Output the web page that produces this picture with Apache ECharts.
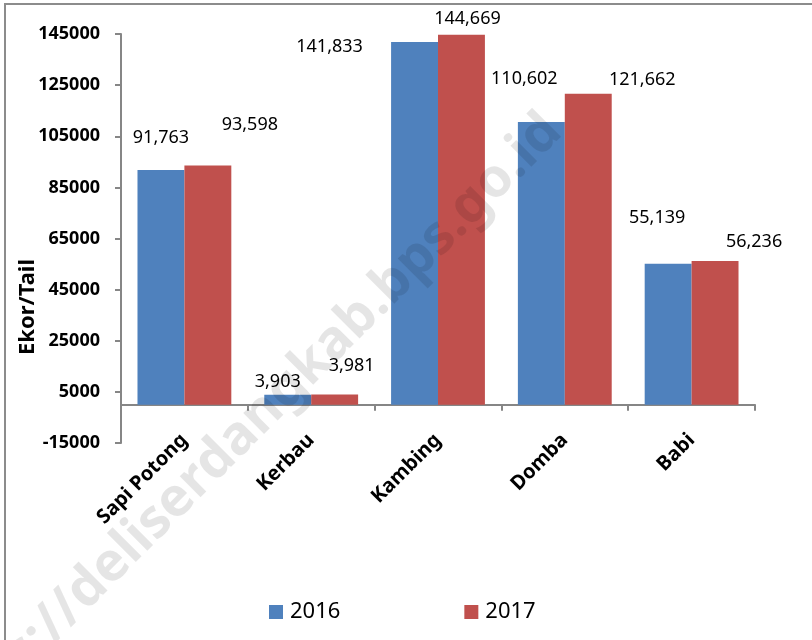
<!DOCTYPE html>
<html>
<head>
<meta charset="utf-8">
<script src="https://cdn.jsdelivr.net/npm/echarts@6/dist/echarts.min.js"></script>
<style>
  html, body { margin: 0; padding: 0; background: #fff; }
  #chart { width: 812px; height: 640px; }
</style>
</head>
<body>
<div id="chart"></div>
<script>
var categories = ['Sapi Potong', 'Kerbau', 'Kambing', 'Domba', 'Babi'];
var seriesNames = ['2016', '2017'];
var values2016 = [91763, 3903, 141833, 110602, 55139];
var values2017 = [93598, 3981, 144669, 121662, 56236];
var yTicks = { min: -15000, max: 145000, interval: 20000 };

// label nudges, the excel labels were dragged around by hand
var offsets2016 = [[0, -18], [-10, 1], [-85, 19], [-17, -29], [-11, -32]];
var offsets2017 = [[42, -27], [17, -15], [6, -2], [54, 0], [39, -5]];

var chart = echarts.init(document.getElementById('chart'));

function makeData(vals, offs) {
  var out = [];
  for (var i = 0; i < vals.length; i++) {
    out.push({ value: vals[i], label: { offset: offs[i] } });
  }
  return out;
}

var labelStyle = {
  show: true,
  position: 'top',
  distance: 5,
  color: '#000',
  fontFamily: 'Noto Sans',
  fontSize: 18,
  formatter: function (p) { return p.value.toLocaleString('en-US'); }
};

var option = {
  animation: false,
  backgroundColor: '#fff',
  grid: { left: 121, right: 57, top: 34, bottom: 197 },
  legend: {
    data: seriesNames,
    left: 264,
    top: 596,
    itemWidth: 14,
    itemHeight: 14,
    itemGap: 124,
    icon: 'rect',
    textStyle: { fontFamily: 'Noto Sans', fontSize: 22, color: '#000', padding: [0, 0, 0, 2] }
  },
  xAxis: {
    type: 'category',
    data: categories,
    axisLine: { onZero: true, lineStyle: { color: '#868686', width: 2 } },
    axisTick: { show: true, length: 6, lineStyle: { color: '#868686', width: 2 } },
    axisLabel: {
      interval: 0,
      rotate: 45,
      margin: -6,
      color: '#000',
      fontFamily: 'Noto Sans',
      fontWeight: 'bold',
      fontSize: 20
    }
  },
  yAxis: {
    type: 'value',
    min: yTicks.min,
    max: yTicks.max,
    interval: yTicks.interval,
    splitLine: { show: false },
    axisLine: { show: true, onZero: false, lineStyle: { color: '#868686', width: 2 } },
    axisTick: { show: true, length: 6, lineStyle: { color: '#868686', width: 2 } },
    axisLabel: {
      margin: 21,
      color: '#000',
      fontFamily: 'Noto Sans',
      fontWeight: 'bold',
      fontSize: 18,
      formatter: function (v) { return String(v); }
    }
  },
  series: [
    {
      name: seriesNames[0],
      type: 'bar',
      barGap: '0%',
      barCategoryGap: '26%',
      itemStyle: { color: '#4F81BD' },
      label: labelStyle,
      data: makeData(values2016, offsets2016)
    },
    {
      name: seriesNames[1],
      type: 'bar',
      barGap: '0%',
      barCategoryGap: '26%',
      itemStyle: { color: '#C0504D' },
      label: labelStyle,
      data: makeData(values2017, offsets2017)
    }
  ],
  graphic: [
    {
      type: 'rect',
      shape: { x: 5, y: 4, width: 820, height: 660 },
      style: { fill: 'none', stroke: '#8c8c8c', lineWidth: 2 },
      silent: true
    },
    {
      type: 'text',
      x: 28,
      y: 307,
      rotation: Math.PI / 2,
      style: {
        text: 'Ekor/Tail',
        fontFamily: 'Noto Sans',
        fontWeight: 'bold',
        fontSize: 22,
        fill: '#000',
        textAlign: 'center',
        textVerticalAlign: 'middle'
      }
    },
    {
      type: 'text',
      x: 534,
      y: 104,
      rotation: Math.PI / 4,
      z: 100,
      silent: true,
      style: {
        text: 'https://deliserdangkab.bps.go.id',
        fontFamily: 'Noto Sans',
        fontWeight: 'bold',
        fontSize: 54,
        fill: 'rgba(0,0,0,0.1)',
        textAlign: 'right',
        textVerticalAlign: 'top'
      }
    }
  ]
};

chart.setOption(option);
</script>
</body>
</html>
